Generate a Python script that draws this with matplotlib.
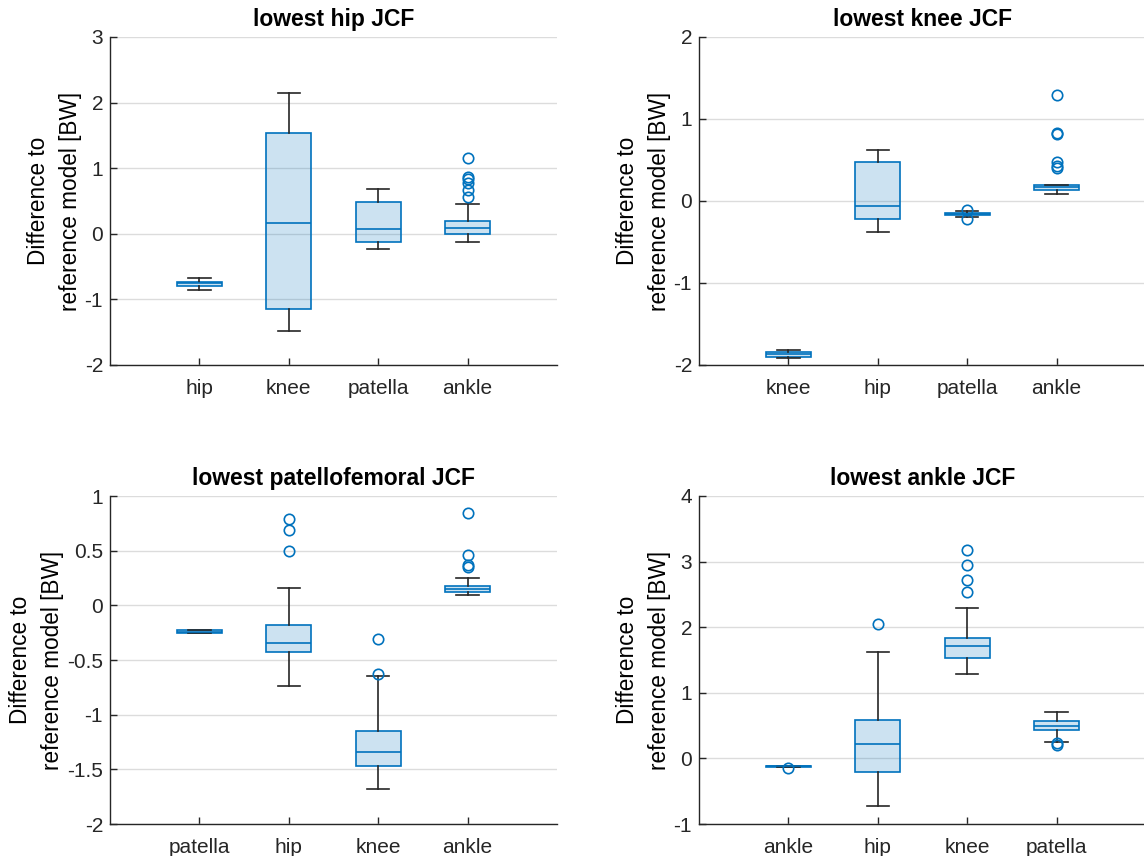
import matplotlib
matplotlib.use("Agg")
import matplotlib.pyplot as plt

plt.rcParams['font.family'] = ['Liberation Sans', 'DejaVu Sans']
plt.rcParams['axes.unicode_minus'] = False

# ---------------- data ----------------
titles = ["lowest hip JCF", "lowest knee JCF", "lowest patellofemoral JCF", "lowest ankle JCF"]

cats_hip = ["hip", "knee", "patella", "ankle"]
q1_hip = [-0.79, -1.14, -0.12, 0.00]
med_hip = [-0.75, 0.17, 0.08, 0.09]
q3_hip = [-0.73, 1.54, 0.49, 0.20]
wlo_hip = [-0.85, -1.48, -0.23, -0.12]
whi_hip = [-0.68, 2.15, 0.69, 0.46]
fl_hip = [[], [], [], [1.16, 0.87, 0.83, 0.78, 0.67, 0.56]]

cats_knee = ["knee", "hip", "patella", "ankle"]
q1_knee = [-1.90, -0.22, -0.175, 0.14]
med_knee = [-1.87, -0.055, -0.16, 0.17]
q3_knee = [-1.84, 0.47, -0.145, 0.19]
wlo_knee = [-1.91, -0.38, -0.20, 0.09]
whi_knee = [-1.82, 0.62, -0.12, 0.20]
fl_knee = [[], [], [-0.11, -0.22], [1.29, 0.83, 0.82, 0.47, 0.43, 0.40]]

cats_pat = ["patella", "hip", "knee", "ankle"]
q1_pat = [-0.25, -0.43, -1.47, 0.12]
med_pat = [-0.24, -0.34, -1.34, 0.15]
q3_pat = [-0.23, -0.18, -1.15, 0.18]
wlo_pat = [-0.255, -0.74, -1.68, 0.09]
whi_pat = [-0.225, 0.16, -0.65, 0.25]
fl_pat = [[], [0.79, 0.69, 0.50], [-0.31, -0.63], [0.84, 0.46, 0.37, 0.355]]

cats_ank = ["ankle", "hip", "knee", "patella"]
q1_ank = [-0.125, -0.20, 1.53, 0.44]
med_ank = [-0.12, 0.22, 1.72, 0.50]
q3_ank = [-0.115, 0.58, 1.84, 0.57]
wlo_ank = [-0.125, -0.72, 1.28, 0.25]
whi_ank = [-0.115, 1.62, 2.29, 0.70]
fl_ank = [[-0.15], [2.05], [3.18, 2.95, 2.72, 2.54], [0.23, 0.20]]

ylims = [(-2, 3), (-2, 2), (-2, 1), (-1, 4)]
yticks = [[-2, -1, 0, 1, 2, 3], [-2, -1, 0, 1, 2],
          [-2, -1.5, -1, -0.5, 0, 0.5, 1], [-1, 0, 1, 2, 3, 4]]

panels = [
    (cats_hip, q1_hip, med_hip, q3_hip, wlo_hip, whi_hip, fl_hip),
    (cats_knee, q1_knee, med_knee, q3_knee, wlo_knee, whi_knee, fl_knee),
    (cats_pat, q1_pat, med_pat, q3_pat, wlo_pat, whi_pat, fl_pat),
    (cats_ank, q1_ank, med_ank, q3_ank, wlo_ank, whi_ank, fl_ank),
]

# ---------------- style ----------------
W, H = 1144, 856
blue = "#0072BD"
fill = (0.0, 0.447, 0.741, 0.2)
dark = "#262626"

fig = plt.figure(figsize=(W / 100, H / 100), dpi=100)
rects = [(110, 37), (699, 37), (110, 496), (699, 496)]
aw, ah = 447, 328

for i, (cats, q1, med, q3, wlo, whi, fl) in enumerate(panels):
    x0, y0 = rects[i]
    ax = fig.add_axes([x0 / W, 1 - (y0 + ah) / H, aw / W, ah / H])
    stats = []
    for j in range(len(cats)):
        stats.append(dict(q1=q1[j], med=med[j], q3=q3[j], whislo=wlo[j],
                          whishi=whi[j], fliers=fl[j], label=cats[j]))
    ax.bxp(stats, positions=range(1, len(cats) + 1), widths=0.5,
           patch_artist=True, showfliers=True,
           boxprops=dict(facecolor=fill, edgecolor=blue, linewidth=1.2),
           medianprops=dict(color=blue, linewidth=1.2),
           whiskerprops=dict(color=dark, linewidth=1.2),
           capprops=dict(color=dark, linewidth=1.2),
           flierprops=dict(marker='o', markerfacecolor='none',
                           markeredgecolor=blue, markersize=7.5,
                           markeredgewidth=1.2, linestyle='none'),
           zorder=3)
    ax.set_xlim(0, 5)
    ax.set_ylim(*ylims[i])
    ax.set_yticks(yticks[i])
    ax.set_yticklabels(["%g" % v for v in yticks[i]])
    ax.set_xticks(range(1, len(cats) + 1))
    ax.set_xticklabels(cats)
    ax.tick_params(direction='in', length=5, width=1, colors=dark,
                   labelsize=15)
    ax.tick_params(axis='y', pad=5)
    ax.tick_params(axis='x', pad=10)
    ax.grid(axis='y', color='#dcdcdc', linewidth=1.0, zorder=0)
    ax.set_axisbelow(True)
    for s in ['top', 'right']:
        ax.spines[s].set_visible(False)
    for s in ['left', 'bottom']:
        ax.spines[s].set_color(dark)
        ax.spines[s].set_linewidth(1.0)
    ax.set_title(titles[i], fontsize=16.5, fontweight='bold', color='black', pad=8)
    ax.set_ylabel("Difference to\nreference model [BW]", fontsize=16.3,
                  color='black', linespacing=1.5, labelpad=2)

fig.savefig("out.png", dpi=100)
